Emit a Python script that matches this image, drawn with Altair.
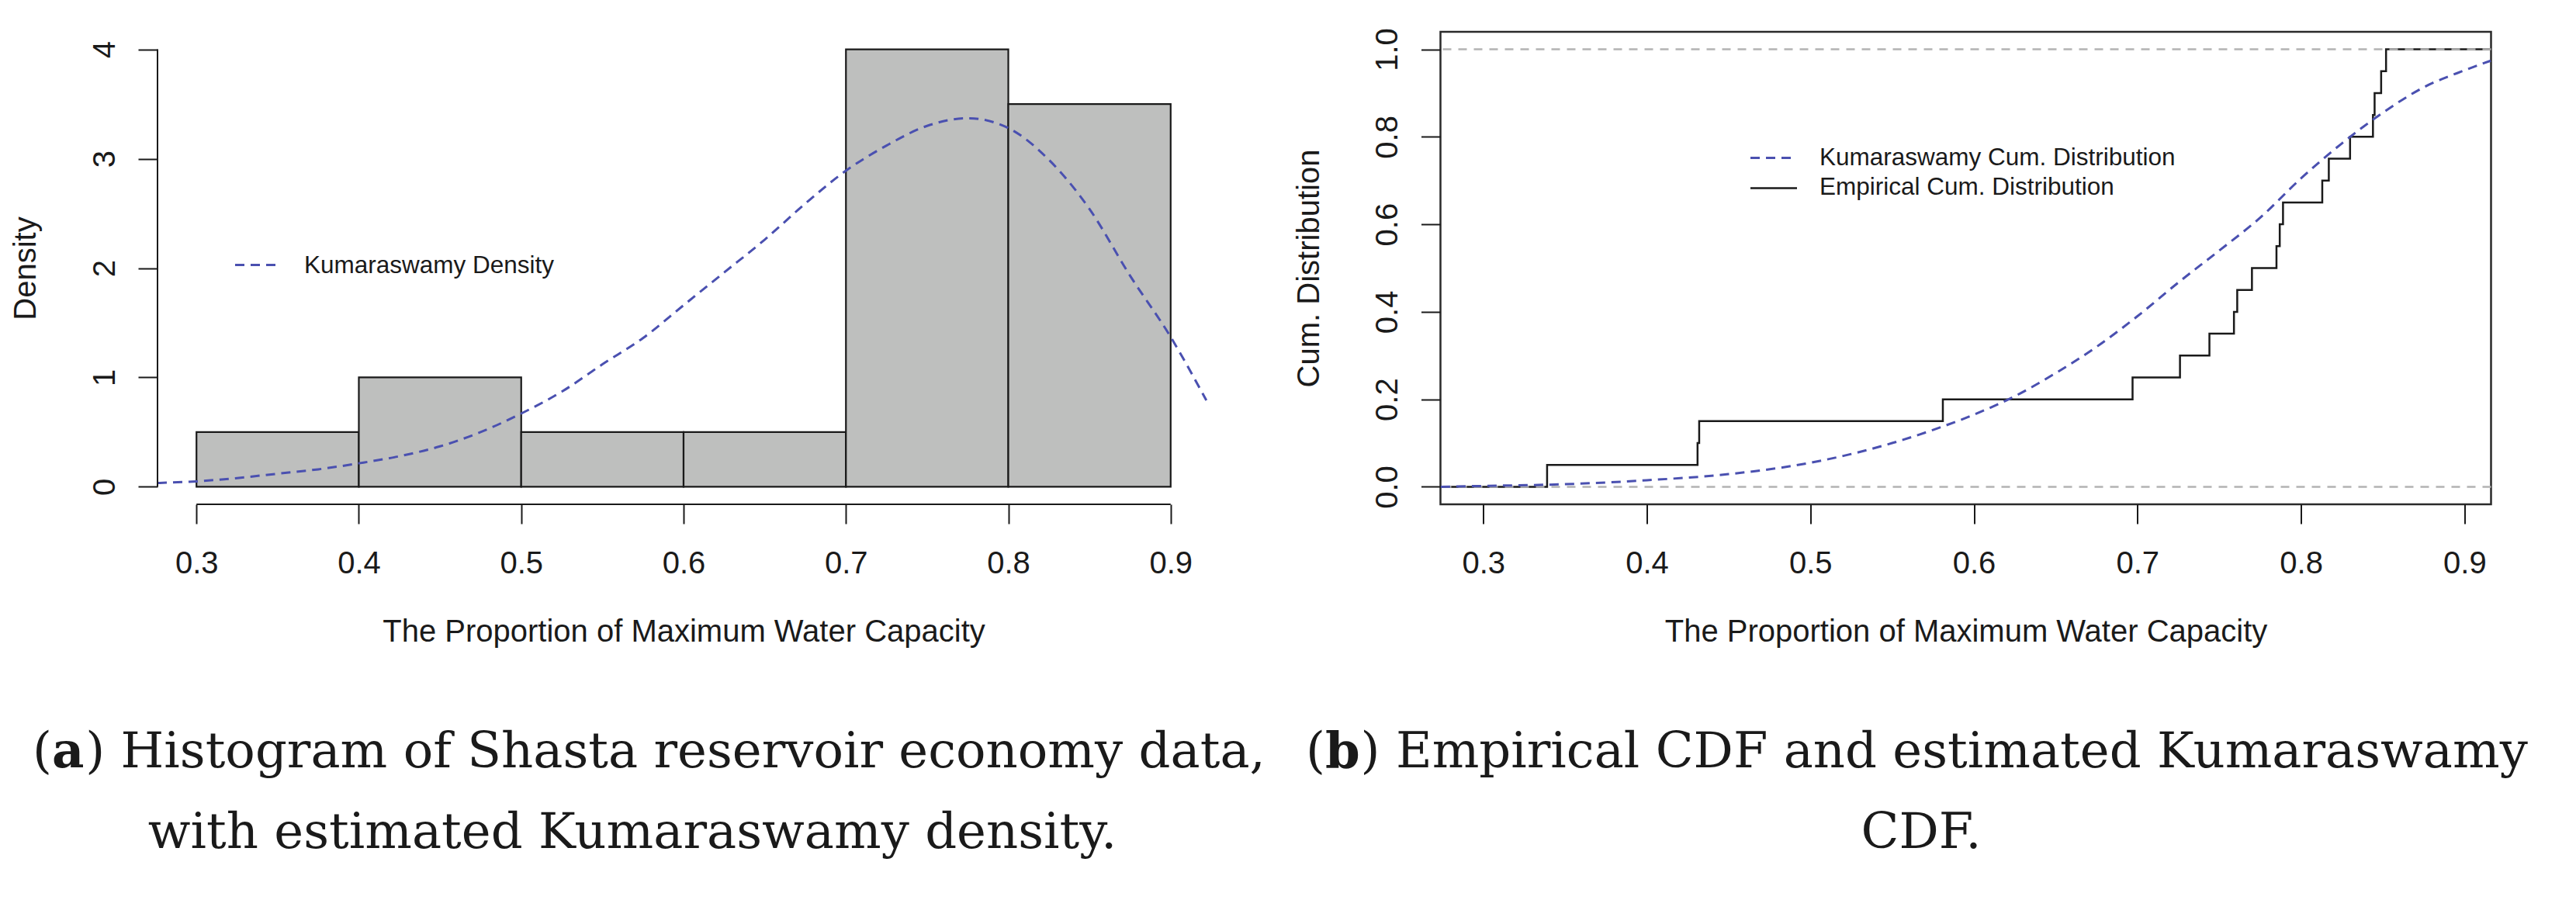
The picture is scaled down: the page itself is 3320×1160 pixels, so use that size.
import altair as alt
import pandas as pd

# ---------------- data ----------------
# (a) histogram (density scale)
bin_start = [0.3, 0.4, 0.5, 0.6, 0.7, 0.8]
bin_end = [0.4, 0.5, 0.6, 0.7, 0.8, 0.9]
bin_density = [0.5, 1.0, 0.5, 0.5, 4.0, 3.5]

# (a) estimated Kumaraswamy density curve
dens_x = [0.276, 0.300, 0.325, 0.350, 0.375, 0.400, 0.425, 0.450, 0.475, 0.500,
          0.525, 0.550, 0.575, 0.600, 0.625, 0.650, 0.675, 0.700, 0.725, 0.750,
          0.775, 0.800, 0.825, 0.850, 0.875, 0.900, 0.922]
dens_y = [0.035, 0.05, 0.08, 0.12, 0.16, 0.215, 0.28, 0.37, 0.50, 0.67,
          0.87, 1.12, 1.36, 1.66, 1.96, 2.26, 2.59, 2.89, 3.12, 3.30,
          3.37, 3.28, 2.99, 2.54, 1.93, 1.37, 0.79]

# (b) observations (jump points of the empirical CDF)
obs = [0.339, 0.431, 0.432, 0.581, 0.697, 0.726, 0.744, 0.759, 0.761, 0.770,
       0.785, 0.787, 0.789, 0.813, 0.817, 0.830, 0.844, 0.845, 0.849, 0.852]

# (b) estimated Kumaraswamy CDF curve
cdf_x = [0.274, 0.30, 0.35, 0.40, 0.45, 0.50, 0.525, 0.55, 0.575, 0.60, 0.625,
         0.65, 0.675, 0.70, 0.725, 0.75, 0.775, 0.80, 0.825, 0.85, 0.875, 0.90, 0.916]
cdf_y = [0.0, 0.002, 0.006, 0.015, 0.029, 0.055, 0.075, 0.100, 0.130, 0.165, 0.207,
         0.260, 0.320, 0.390, 0.467, 0.540, 0.615, 0.705, 0.785, 0.855, 0.913, 0.952, 0.974]

x_ticks = [0.3, 0.4, 0.5, 0.6, 0.7, 0.8, 0.9]
y1_ticks = [0, 1, 2, 3, 4]
y2_ticks = [0.0, 0.2, 0.4, 0.6, 0.8, 1.0]
ref_levels = [0.0, 1.0]

# ---------------- styling ----------------
FONT = "Liberation Sans"
SERIF = "DejaVu Serif"
BLUE = "#4A50B0"
INK = "#1a1a1a"
W1, W2, H = 1356, 1354, 609
X1_DOM = [0.276, 0.924]
Y1_DOM = [-0.16, 4.16]
X2_DOM = [0.2738, 0.9162]
Y2_DOM = [-0.04, 1.04]

one = pd.DataFrame({"k": [0]})


def make_axis(**kw):
    base = dict(domain=False, grid=False, ticks=True, tickSize=25, tickWidth=2,
                tickColor=INK, labelFont=FONT, labelFontSize=40, labelColor=INK,
                labelPadding=31, labelFlush=False, labelOverlap=False, labelBound=False,
                titleFont=FONT, titleFontSize=40, titleFontWeight="normal",
                titleColor=INK, zindex=1)
    base.update(kw)
    return alt.Axis(**base)


XAXIS = make_axis(values=x_ticks, format=".1f",
                  title="The Proportion of Maximum Water Capacity",
                  titleY=176.7, titleBaseline="alphabetic")


def y_axis(values, fmt, title, tx):
    return make_axis(values=values, format=fmt, title=title, labelAngle=270,
                     labelAlign="center", labelBaseline="alphabetic",
                     titleAngle=270, titleX=tx, titleY=H / 2, titleAlign="center",
                     titleBaseline="alphabetic")


def txt(text, x, y, size, font=FONT, align="left", weight="normal"):
    return alt.Chart(one).mark_text(
        text=text, font=font, fontSize=size, align=align, baseline="alphabetic",
        color=INK, fontWeight=weight
    ).encode(x=alt.value(x), y=alt.value(y))


# ---------------- panel (a) ----------------
xs1 = alt.Scale(domain=X1_DOM, nice=False, zero=False)
ys1 = alt.Scale(domain=Y1_DOM, nice=False, zero=False)
YAXIS1 = y_axis(y1_ticks, "d", "Density", -158)

hist_df = pd.DataFrame({"x0": bin_start, "x1": bin_end, "d": bin_density})
dens_df = pd.DataFrame({"x": dens_x, "y": dens_y})

anchor = alt.Chart(one).mark_rect(opacity=0).encode(
    x=alt.value(-203), x2=alt.value(3320 - 203),
    y=alt.value(-40.4), y2=alt.value(1160 - 40.4))

bars = alt.Chart(hist_df).mark_rect(fill="#BEBFBE", stroke=INK, strokeWidth=2.2).encode(
    x=alt.X("x0:Q", scale=xs1, axis=XAXIS),
    x2="x1:Q",
    y=alt.Y("d:Q", scale=ys1, axis=YAXIS1),
    y2=alt.datum(0),
)

dens_line = alt.Chart(dens_df).mark_line(
    color=BLUE, strokeWidth=3, strokeDash=[12, 8], interpolate="monotone"
).encode(
    x=alt.X("x:Q", scale=xs1, axis=XAXIS),
    y=alt.Y("y:Q", scale=ys1, axis=YAXIS1),
)

yline1 = alt.Chart(one).mark_rule(color=INK, strokeWidth=2).encode(
    x=alt.value(0), y=alt.YDatum(0, axis=YAXIS1), y2=alt.datum(4))
xline1 = alt.Chart(one).mark_rule(color=INK, strokeWidth=2).encode(
    y=alt.value(H), x=alt.XDatum(0.3, axis=XAXIS), x2=alt.datum(0.9))

leg1_line = alt.Chart(one).mark_rule(color=BLUE, strokeWidth=3, strokeDash=[12, 8]).encode(
    x=alt.value(100), x2=alt.value(153), y=alt.value(300.6))
leg1_text = txt("Kumaraswamy Density", 189, 310.6, 31.5)

cap_a = [
    txt("(", -161, 947.6, 64, SERIF),
    txt("a", -136, 947.6, 64, SERIF, weight="bold"),
    txt(") Histogram of Shasta reservoir economy data,", -92.8, 947.6, 64, SERIF),
    txt("with estimated Kumaraswamy density.", 612, 1051.6, 64, SERIF, align="center"),
]

left = alt.layer(anchor, bars, dens_line, yline1, xline1, leg1_line, leg1_text, *cap_a).properties(
    width=W1, height=H)

# ---------------- panel (b) ----------------
xs2 = alt.Scale(domain=X2_DOM, nice=False, zero=False)
ys2 = alt.Scale(domain=Y2_DOM, nice=False, zero=False)
YAXIS2 = y_axis(y2_ticks, ".1f", "Cum. Distribution", -157)

n = len(obs)
step_df = pd.DataFrame({
    "x": [X2_DOM[0]] + obs + [X2_DOM[1]],
    "y": [0.0] + [(i + 1) / n for i in range(n)] + [1.0],
})
cdf_df = pd.DataFrame({"x": cdf_x, "y": cdf_y})
ref_df = pd.DataFrame({"h": ref_levels})

step = alt.Chart(step_df).mark_line(color=INK, strokeWidth=2.5, interpolate="step-after").encode(
    x=alt.X("x:Q", scale=xs2, axis=XAXIS),
    y=alt.Y("y:Q", scale=ys2, axis=YAXIS2),
)

refs = alt.Chart(ref_df).mark_rule(color="#B3B3B3", strokeWidth=2.5, strokeDash=[11, 9]).encode(
    y=alt.Y("h:Q", scale=ys2, axis=YAXIS2))

cdf_line = alt.Chart(cdf_df).mark_line(
    color=BLUE, strokeWidth=3, strokeDash=[12, 8], interpolate="monotone"
).encode(
    x=alt.X("x:Q", scale=xs2, axis=XAXIS),
    y=alt.Y("y:Q", scale=ys2, axis=YAXIS2),
)

leg2_l1 = alt.Chart(one).mark_rule(color=BLUE, strokeWidth=3, strokeDash=[12, 8]).encode(
    x=alt.value(399.5), x2=alt.value(452.5), y=alt.value(162.6))
leg2_l2 = alt.Chart(one).mark_rule(color=INK, strokeWidth=2.5).encode(
    x=alt.value(399.5), x2=alt.value(459.5), y=alt.value(201.6))
leg2_t1 = txt("Kumaraswamy Cum. Distribution", 488.5, 171.6, 31.5)
leg2_t2 = txt("Empirical Cum. Distribution", 488.5, 209.6, 31.5)

cap_b = [
    txt("(", -173.5, 947.6, 64, SERIF),
    txt("b", -148.5, 947.6, 64, SERIF, weight="bold"),
    txt(") Empirical CDF and estimated Kumaraswamy", -102.9, 947.6, 64, SERIF),
    txt("CDF.", 619.5, 1051.6, 64, SERIF, align="center"),
]

right = alt.layer(step, refs, cdf_line, leg2_l1, leg2_l2, leg2_t1, leg2_t2, *cap_b).properties(
    width=W2, height=H, view=alt.ViewBackground(stroke="#2a2a2a", strokeWidth=2.5))

chart = alt.hconcat(left, right, spacing=297.5, bounds="flush").properties(
    padding=0, background="white"
).configure_view(stroke=None)

chart.save("out.html", embed_options={"renderer": "svg", "actions": False})
